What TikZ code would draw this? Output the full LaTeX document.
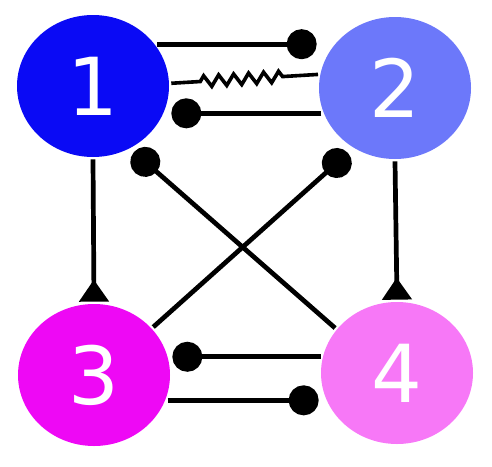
\documentclass[tikz,border=0pt]{standalone}
\usepackage{fontspec}
\setmainfont{DejaVu Sans}
\usetikzlibrary{ % tikz packages
    shapes.geometric,
    arrows.meta,decorations.pathmorphing
}
\definecolor{specA}{RGB}{10,10,245}
\definecolor{specB}{RGB}{108,120,250}
\definecolor{specC}{RGB}{238,8,245}
\definecolor{specD}{RGB}{247,120,247}
\tikzset{species/.style={
    ellipse,
    minimum width=152pt,
    minimum height=142pt,
    inner sep=0pt,
    text=white,
    font=\fontsize{80}{80}\selectfont
}}
\tikzset{ball/.style={-{Circle[length=30pt]}}}
\tikzset{block/.style={-{Triangle[reversed,length=22pt,width=29pt]}}}
\tikzset{spring/.style={
    line width=3.6pt,
    miter limit=4,
    decorate,
    decoration={zigzag,segment length=15pt,amplitude=5.5pt,
        pre length=29pt,post length=31pt}
}}

\begin{document}
\begin{tikzpicture}[x=1pt,y=-1pt,line width=4.7pt]
        \useasboundingbox (0,0) rectangle (492,466);

        \node[species, fill=specA] (s1) at (93,86) {1};
        \node[species, fill=specB] (s2) at (395,88) {2};
        \node[species, fill=specC] (s3) at (94,375) {3};
        \node[species, fill=specD] (s4) at (397,373) {4};

        \coordinate (e1) at (134,152);
        \coordinate (e2) at (348,153);

        % top pair
        \draw[ball] (s1.33) -- (s1.33 -| s2.west);
        \draw[spring] (s1.2) -- (s2.170);
        \draw[ball] (s2.199) -- (s2.199 -| s1.east);

        % bottom pair
        \draw[ball] (s4.168) -- (s4.168 -| s3.east);
        \draw[ball] (s3.341) -- (s3.341 -| s4.west);

        % crossing
        \draw[ball] (s4.144) -- (e1);
        \draw[ball] (s3.39) -- (e2);

        % sides
        \draw[block] (s1.south) -- (s3.north);
        \draw[block] (s2.south) -- (s4.north);
    \end{tikzpicture}
\end{document}
